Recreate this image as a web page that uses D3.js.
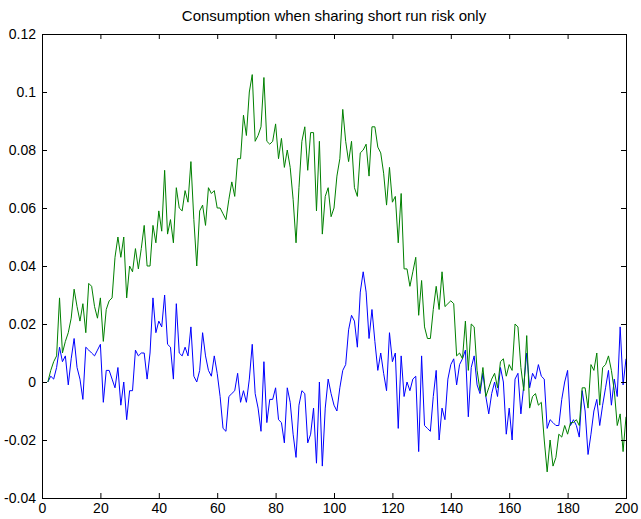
<!DOCTYPE html>
<html>
<head>
<meta charset="utf-8">
<script src="https://cdn.jsdelivr.net/npm/d3@7"></script>
<style>
  body { margin: 0; background: #fff; }
  svg { display: block; }
  text { font-family: "Liberation Sans", Arial, Helvetica, sans-serif; }
</style>
</head>
<body>
<div id="chart"></div>
<script>
const chartTitle = 'Consumption when sharing short run risk only'

// first period plotted, series run to 200
const firstPeriod = 2

// blue line
const blueSeries = [
  0, 0.002, 0.001, 0.005, 0.012, 0.007, 0.009, -0.001, 0.008, 0.015, 0.005, 0.001, -0.006, 0.012, 0.011,
  0.010, 0.009, 0.011, 0.013, -0.007, 0.004, 0.004, 0.001, -0.002, 0.005, -0.008, 0, -0.013, -0.003, -0.003, 0.011, 0.009,
  0.010, 0.010, 0.001, 0.010, 0.029, 0.017, 0.021, 0.019, 0.030, 0.013, 0.012, 0.001, 0.027, 0.010, 0.009, 0.012, 0.009,
  0.019, 0.002, 0, 0.004, 0.017, 0.009, 0.004, 0.002, 0.009, 0.003, -0.005, -0.016, -0.017, -0.005, -0.004, -0.003, 0.003,
  -0.007, -0.003, -0.007, 0.001, 0.013, -0.004, -0.009, -0.017, 0.007, -0.014, -0.006, -0.006, -0.002, -0.013, -0.014, -0.021, -0.002,
  -0.007, -0.018, -0.026, -0.008, -0.003, -0.004, -0.021, -0.018, -0.009, -0.028, 0, -0.029, -0.009, 0.001, -0.004, -0.008, -0.010,
  -0.002, 0.004, 0.006, 0.018, 0.023, 0.021, 0.012, 0.031, 0.038, 0.031, 0.015, 0.025, 0.014, 0.004, 0.010, 0.003,
  -0.003, 0.017, 0.007, 0.010, -0.016, 0.009, -0.005, 0, -0.003, 0.001, 0.002, -0.024, 0.009, -0.015, -0.016, -0.017, -0.005,
  0.004, -0.020, -0.009, -0.013, 0.001, 0.006, 0.008, -0.001, 0.006, 0.008, 0.011, -0.012, 0.005, 0.009, -0.001, -0.004, 0.003,
  -0.005, -0.011, -0.004, 0, -0.005, 0.005, 0, -0.018, -0.009, -0.020, 0.001, 0.003, -0.011, -0.001, 0.010, -0.002,
  0.003, 0.001, 0.006, 0.002, 0.001, -0.016, -0.013, -0.014, -0.015, -0.015, -0.006, 0, 0.004, -0.015, -0.013, -0.015, -0.019,
  -0.003, -0.010, -0.025, -0.018, -0.010, -0.006, -0.015, -0.008, -0.002, 0.004, -0.008, 0.001, -0.005, 0.019, -0.001, 0.008
]

// green line
const greenSeries = [
  0, 0.004, 0.007, 0.009, 0.029, 0.010, 0.014, 0.017, 0.022, 0.032, 0.026, 0.021, 0.027, 0.017, 0.034,
  0.033, 0.026, 0.022, 0.029, 0.014, 0.025, 0.028, 0.029, 0.043, 0.050, 0.043, 0.050, 0.029, 0.040, 0.038, 0.046, 0.039,
  0.046, 0.054, 0.040, 0.040, 0.054, 0.048, 0.059, 0.052, 0.073, 0.051, 0.056, 0.048, 0.067, 0.060, 0.059, 0.066, 0.062,
  0.076, 0.056, 0.040, 0.059, 0.061, 0.054, 0.067, 0.065, 0.066, 0.060, 0.060, 0.058, 0.056, 0.063, 0.069, 0.064, 0.077,
  0.077, 0.092, 0.085, 0.100, 0.106, 0.083, 0.085, 0.088, 0.105, 0.083, 0.082, 0.083, 0.089, 0.077, 0.084, 0.074, 0.080,
  0.074, 0.063, 0.048, 0.067, 0.083, 0.088, 0.073, 0.086, 0.086, 0.059, 0.083, 0.051, 0.064, 0.067, 0.057, 0.060, 0.071,
  0.077, 0.094, 0.083, 0.076, 0.083, 0.067, 0.064, 0.079, 0.080, 0.082, 0.071, 0.088, 0.088, 0.081, 0.079, 0.072,
  0.061, 0.074, 0.062, 0.064, 0.048, 0.065, 0.039, 0.039, 0.033, 0.038, 0.043, 0.023, 0.035, 0.019, 0.015, 0.015, 0.025,
  0.033, 0.025, 0.038, 0.026, 0.027, 0.028, 0.027, 0.009, 0.010, 0.008, 0.021, 0.004, 0.020, 0.019, 0.004, -0.003, 0.005,
  -0.005, -0.002, 0.001, 0.003, -0.002, 0.007, 0.008, 0.002, 0.006, 0.004, 0.020, 0.019, 0.005, -0.003, 0.016, -0.009,
  -0.005, -0.004, -0.008, -0.007, -0.020, -0.031, -0.020, -0.029, -0.026, -0.018, -0.019, -0.015, -0.018, -0.014, -0.014, -0.013, -0.015,
  -0.002, -0.002, -0.009, 0.006, 0.004, 0.010, -0.008, 0.005, 0.006, 0.009, 0.004, -0.003, -0.015, -0.011, -0.024, -0.012
]

const xTicks = [0, 20, 40, 60, 80, 100, 120, 140, 160, 180, 200]
const yTicks = [-0.04, -0.02, 0, 0.02, 0.04, 0.06, 0.08, 0.1, 0.12]
const yTickLabels = ['-0.04', '-0.02', '0', '0.02', '0.04', '0.06', '0.08', '0.1', '0.12']

const width = 641
const height = 519
const margin = { top: 34, right: 15, bottom: 21, left: 42 }
const plotW = width - margin.left - margin.right
const plotH = height - margin.top - margin.bottom

const svg = d3.select('#chart')
  .append('svg')
  .attr('width', width)
  .attr('height', height)

const x = d3.scaleLinear().domain([0, 200]).range([0, plotW])
const y = d3.scaleLinear().domain([-0.04, 0.12]).range([plotH, 0])

const g = svg.append('g')
  .attr('transform', `translate(${margin.left}, ${margin.top})`)

const line = d3.line()
  .x((d, i) => x(firstPeriod + i))
  .y(d => y(d))

// blue first, green on top (matlab order)
g.append('path')
  .datum(blueSeries)
  .attr('d', line)
  .attr('fill', 'none')
  .attr('stroke', '#0000ff')
  .attr('stroke-width', 1)

g.append('path')
  .datum(greenSeries)
  .attr('d', line)
  .attr('fill', 'none')
  .attr('stroke', '#008000')
  .attr('stroke-width', 1)

const tick = 5
const styleAxis = sel => {
  sel.select('.domain').remove()
  sel.selectAll('line').attr('stroke', '#000')
  sel.selectAll('text').attr('fill', '#000').attr('font-size', 14)
}

g.append('g')
  .attr('transform', `translate(0, ${plotH})`)
  .call(d3.axisBottom(x).tickValues(xTicks).tickSizeInner(-tick).tickSizeOuter(0).tickPadding(5))
  .call(styleAxis)

g.append('g')
  .call(d3.axisTop(x).tickValues(xTicks).tickSizeInner(-tick).tickSizeOuter(0).tickFormat(''))
  .call(styleAxis)

g.append('g')
  .call(d3.axisLeft(y).tickValues(yTicks).tickSizeInner(-tick).tickSizeOuter(0).tickPadding(6)
    .tickFormat((d, i) => yTickLabels[i]))
  .call(styleAxis)

g.append('g')
  .attr('transform', `translate(${plotW}, 0)`)
  .call(d3.axisRight(y).tickValues(yTicks).tickSizeInner(-tick).tickSizeOuter(0).tickFormat(''))
  .call(styleAxis)

// box
g.append('rect')
  .attr('width', plotW)
  .attr('height', plotH)
  .attr('fill', 'none')
  .attr('stroke', '#000')
  .attr('stroke-width', 1)
  .attr('shape-rendering', 'crispEdges')

svg.append('text')
  .attr('x', margin.left + plotW / 2)
  .attr('y', 21)
  .attr('text-anchor', 'middle')
  .attr('font-size', 15)
  .attr('fill', '#000')
  .text(chartTitle)
</script>
</body>
</html>
